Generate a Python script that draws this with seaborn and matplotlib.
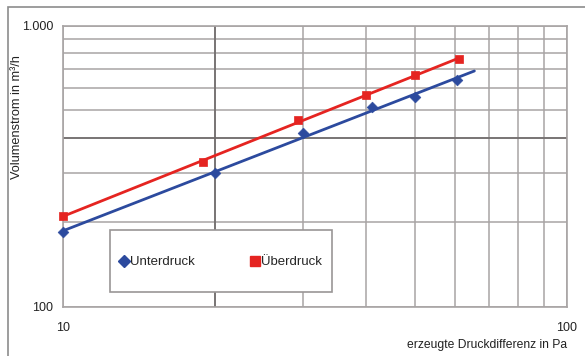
import numpy as np
import pandas as pd
import matplotlib
matplotlib.use("Agg")
import matplotlib.pyplot as plt
import seaborn as sns
from matplotlib.ticker import LogLocator, FixedLocator, NullFormatter
from matplotlib.lines import Line2D
from matplotlib.patches import Rectangle

unter_dp = [10, 20, 30, 41, 50, 60.5]
unter_v = [184, 299, 415, 514, 558, 642]
ueber_dp = [10, 19, 29.2, 40, 50, 61]
ueber_v = [210, 327, 462, 567, 668, 762]
# Bereich der Trendlinien
unter_fit_range = [10, 65.5]
ueber_fit_range = [10, 61]

blue = "#2c4a9e"
red = "#e52421"
grid_col = "#a8a4a4"

sns.set_style("white")
plt.rcParams["font.family"] = ["Liberation Sans", "DejaVu Sans"]

fig = plt.figure(figsize=(5.85, 3.56), dpi=100)
ax = fig.add_axes([63 / 585, 1 - 306.5 / 356, 504 / 585, 280.5 / 356])

# Rahmen um das ganze Diagramm
fig.patches.append(Rectangle((8 / 585, -0.1), 1.2, 1 - 7 / 356 + 0.1,
                             transform=fig.transFigure, fill=False,
                             edgecolor="#8c8c8c", lw=1.2, zorder=0))


def power_fit(x, y, rng):
    b, a = np.polyfit(np.log10(x), np.log10(y), 1)
    xs = np.logspace(np.log10(rng[0]), np.log10(rng[1]), 50)
    return pd.DataFrame({"x": xs, "y": 10 ** a * xs ** b})


fit_u = power_fit(unter_dp, unter_v, unter_fit_range)
fit_o = power_fit(ueber_dp, ueber_v, ueber_fit_range)

sns.lineplot(data=fit_u, x="x", y="y", color=blue, lw=2, ax=ax, zorder=3)
sns.lineplot(data=fit_o, x="x", y="y", color=red, lw=2, ax=ax, zorder=3)
sns.scatterplot(x=unter_dp, y=unter_v, marker="D", s=30, color=blue,
                edgecolor=blue, ax=ax, zorder=4, clip_on=False)
sns.scatterplot(x=ueber_dp, y=ueber_v, marker="s", s=40, color=red,
                edgecolor=red, ax=ax, zorder=4, clip_on=False)

ax.set_xscale("log")
ax.set_yscale("log")
ax.set_xlim(10, 100)
ax.set_ylim(100, 1000)

ax.xaxis.set_major_locator(FixedLocator([10, 100]))
ax.yaxis.set_major_locator(FixedLocator([100, 1000]))
ax.xaxis.set_minor_locator(LogLocator(base=10, subs=np.arange(2, 10)))
ax.yaxis.set_minor_locator(LogLocator(base=10, subs=np.arange(2, 10)))
ax.xaxis.set_minor_formatter(NullFormatter())
ax.yaxis.set_minor_formatter(NullFormatter())
ax.set_xticklabels(["10", "100"])
ax.set_yticklabels(["100", "1.000"])
ax.tick_params(axis="both", which="major", length=4, width=1, color=grid_col,
               labelsize=9, direction="out", labelcolor="#222222")
ax.tick_params(axis="both", which="minor", length=0)
ax.tick_params(axis="x", which="major", pad=7)
ax.tick_params(axis="y", which="major", pad=3)
ax.grid(True, which="both", color=grid_col, lw=1.1)
# zwei etwas dunklere Linien wie im Original
ax.axvline(20, color="#6e6a6a", lw=1.2, zorder=1)
ax.axhline(400, color="#6e6a6a", lw=1.2, zorder=1)
for s in ax.spines.values():
    s.set_color(grid_col)
    s.set_linewidth(1.2)
ax.set_xlabel("")
ax.set_ylabel("")

# Legende
ax.add_patch(Rectangle(((110 - 63) / 504, (306.5 - 292) / 280.5),
                       222 / 504, 62 / 280.5, transform=ax.transAxes,
                       facecolor="white", edgecolor="#9a9696", lw=1.2, zorder=5))
handles = [Line2D([], [], ls="none", marker="D", ms=6, color=blue),
           Line2D([], [], ls="none", marker="s", ms=7, color=red)]
leg = ax.legend(handles, ["Unterdruck", "Überdruck"], ncol=2, frameon=False,
                loc="center", bbox_to_anchor=((221 - 63) / 504, (306.5 - 262) / 280.5),
                fontsize=9.5, handlelength=0.6, handletextpad=0.2,
                columnspacing=4.2)
leg.set_zorder(6)

fig.text(17 / 585, 1 - 117 / 356, "Volumenstrom in m³/h", rotation=90,
         ha="center", va="center", fontsize=9.2, color="#222222")
fig.text(567 / 585, 1 - 345 / 356, "erzeugte Druckdifferenz in Pa",
         ha="right", va="center", fontsize=8.7, color="#222222")

fig.savefig("out.png", dpi=100)
